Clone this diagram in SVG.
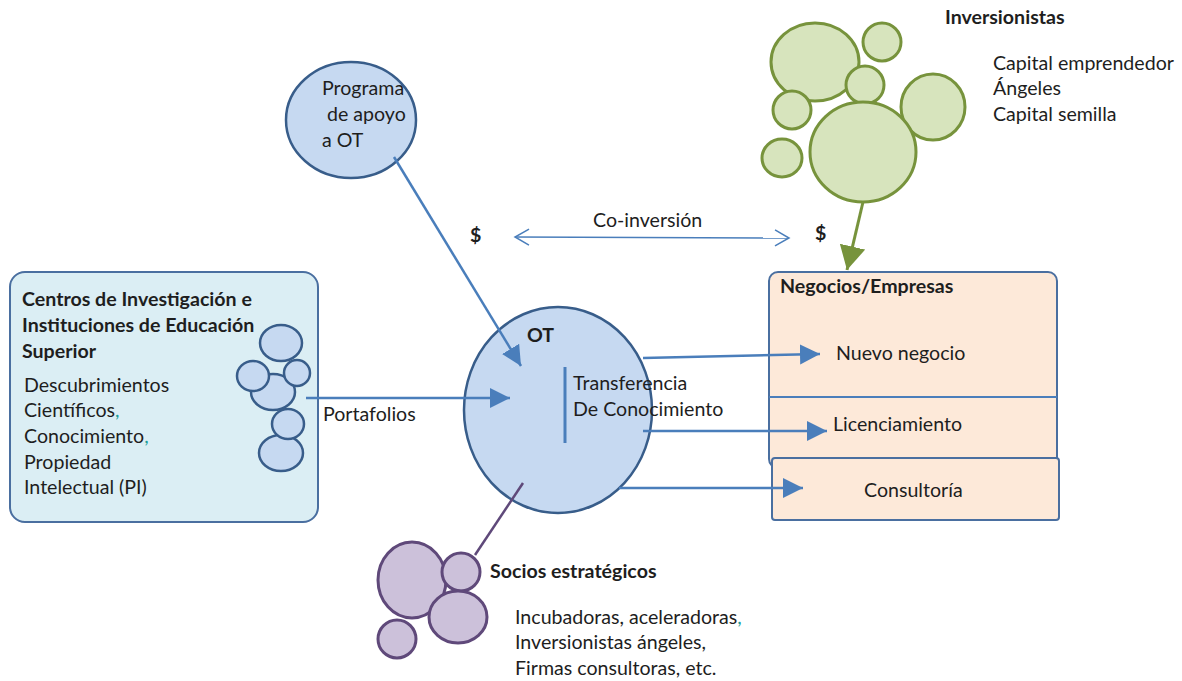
<svg xmlns="http://www.w3.org/2000/svg" width="1182" height="681" viewBox="0 0 1182 681">
<defs>
<style>
text{font-family:Lato,"Open Sans","Liberation Sans",sans-serif;fill:#1e1e1e;font-size:19.6px}
.b{font-weight:bold;font-size:19.6px}
.tl{fill:#1f9e9a}
.bb{fill:#c6d9f1;stroke:#385d8a;stroke-width:2.5}
.gb{fill:#d7e4bd;stroke:#77933c;stroke-width:3}
.pb{fill:#ccc1da;stroke:#5f497a;stroke-width:3}
.conn{fill:none;stroke:#4a7ebb;stroke-width:2.5}
</style>
<marker id="ah" markerUnits="userSpaceOnUse" markerWidth="22" markerHeight="22" refX="20" refY="10" orient="auto" viewBox="0 0 22 22">
<path d="M0,0 L20,10 L0,20 z" fill="#4a7ebb"/>
</marker>
<marker id="ahg" markerUnits="userSpaceOnUse" markerWidth="26" markerHeight="28" refX="24" refY="13" orient="auto" viewBox="0 0 26 28">
<path d="M0,0 L24,13 L0,26 z" fill="#77933c"/>
</marker>
<marker id="oa" markerUnits="userSpaceOnUse" markerWidth="18" markerHeight="20" refX="15" refY="9" orient="auto-start-reverse" viewBox="0 0 18 20">
<path d="M1,1 L15,9 L1,17" fill="none" stroke="#4a7ebb" stroke-width="1.5"/>
</marker>
</defs>
<rect width="1182" height="681" fill="#ffffff"/>

<g id="centros">
<rect x="10" y="272" width="308" height="250" rx="15" fill="#dbeef4" stroke="#4a6fa0" stroke-width="2"/>
<text class="b" x="22" y="306">Centros de Investigación e</text>
<text class="b" x="22" y="332">Instituciones de Educación</text>
<text class="b" x="22" y="358">Superior</text>
<text x="24" y="392">Descubrimientos</text>
<text x="24" y="417">Científicos<tspan class="tl">,</tspan></text>
<text x="24" y="443">Conocimiento<tspan class="tl">,</tspan></text>
<text x="24" y="469">Propiedad</text>
<text x="24" y="494">Intelectual (PI)</text>
<ellipse class="bb" cx="281" cy="343" rx="21" ry="18"/>
<ellipse class="bb" cx="273" cy="392" rx="22" ry="18"/>
<ellipse class="bb" cx="253" cy="376" rx="16" ry="15"/>
<ellipse class="bb" cx="297" cy="373" rx="13" ry="13"/>
<ellipse class="bb" cx="281" cy="453" rx="22" ry="18"/>
<ellipse class="bb" cx="288" cy="424" rx="16" ry="15"/>
</g>

<g id="programa">
<ellipse cx="351" cy="120" rx="65" ry="58" fill="#c6d9f1" stroke="#385d8a" stroke-width="2.5"/>
<text x="322" y="95">Programa</text>
<text x="327" y="121">de apoyo</text>
<text x="322" y="147">a OT</text>
</g>

<g id="ot">
<ellipse cx="558" cy="410" rx="94" ry="103" fill="#c6d9f1" stroke="#385d8a" stroke-width="2.5"/>
<text class="b" x="527" y="342">OT</text>
<line x1="565" y1="367" x2="565" y2="443" stroke="#4a7ebb" stroke-width="3"/>
<text x="573" y="390">Transferencia</text>
<text x="573" y="416">De Conocimiento</text>
</g>

<g id="inversionistas">
<ellipse class="gb" cx="815" cy="62" rx="44" ry="39"/>
<ellipse class="gb" cx="882" cy="42" rx="19" ry="19"/>
<ellipse class="gb" cx="792" cy="110" rx="19" ry="19"/>
<ellipse class="gb" cx="782" cy="158" rx="20" ry="19"/>
<ellipse class="gb" cx="933" cy="107" rx="32" ry="33"/>
<ellipse class="gb" cx="865" cy="85" rx="19" ry="19"/>
<ellipse class="gb" cx="863" cy="152" rx="53" ry="50"/>
<text class="b" x="945" y="24">Inversionistas</text>
<text x="993" y="70">Capital emprendedor</text>
<text x="993" y="95">Ángeles</text>
<text x="993" y="121">Capital semilla</text>
</g>

<g id="negocios">
<rect x="769" y="272" width="288" height="196" rx="9" fill="#fde9d9" stroke="#4a6fa0" stroke-width="2"/>
<line x1="769" y1="397" x2="1057" y2="397" stroke="#4a7ebb" stroke-width="2"/>
<text class="b" x="780" y="293">Negocios/Empresas</text>
<text x="836" y="360">Nuevo negocio</text>
<text x="833" y="431">Licenciamiento</text>
</g>

<g id="consultoria">
<rect x="772" y="458" width="287" height="62" rx="3" fill="#fde9d9" stroke="#4a6fa0" stroke-width="2"/>
<text x="864" y="497">Consultoría</text>
</g>

<g id="socios">
<ellipse class="pb" cx="412" cy="580" rx="34" ry="38"/>
<ellipse class="pb" cx="461" cy="572" rx="19" ry="19"/>
<ellipse class="pb" cx="458" cy="617" rx="29" ry="26"/>
<ellipse class="pb" cx="397" cy="639" rx="19" ry="19"/>
<text class="b" x="490" y="578">Socios estratégicos</text>
<text x="515" y="624">Incubadoras, aceleradoras<tspan class="tl">,</tspan></text>
<text x="515" y="649">Inversionistas ángeles,</text>
<text x="515" y="675">Firmas consultoras, etc.</text>
</g>

<g id="connectors">
<line class="conn" x1="306" y1="398" x2="510" y2="398" marker-end="url(#ah)"/>
<text x="323" y="421">Portafolios</text>
<line class="conn" x1="394" y1="157" x2="521" y2="366" marker-end="url(#ah)"/>
<line class="conn" x1="643" y1="358" x2="820" y2="354" marker-end="url(#ah)"/>
<line class="conn" x1="643" y1="431" x2="827" y2="431" marker-end="url(#ah)"/>
<line class="conn" x1="619" y1="488" x2="803" y2="488" marker-end="url(#ah)"/>
<line x1="863" y1="202" x2="847" y2="270" stroke="#77933c" stroke-width="3" marker-end="url(#ahg)"/>
<line x1="523" y1="483" x2="475" y2="555" stroke="#5f497a" stroke-width="2.5"/>
<line x1="515" y1="237" x2="789" y2="238" stroke="#4a7ebb" stroke-width="1.5" marker-start="url(#oa)" marker-end="url(#oa)"/>
<text x="593" y="227">Co-inversión</text>
<text class="b" x="470" y="242">$</text>
<text class="b" x="815" y="240">$</text>
</g>
</svg>
